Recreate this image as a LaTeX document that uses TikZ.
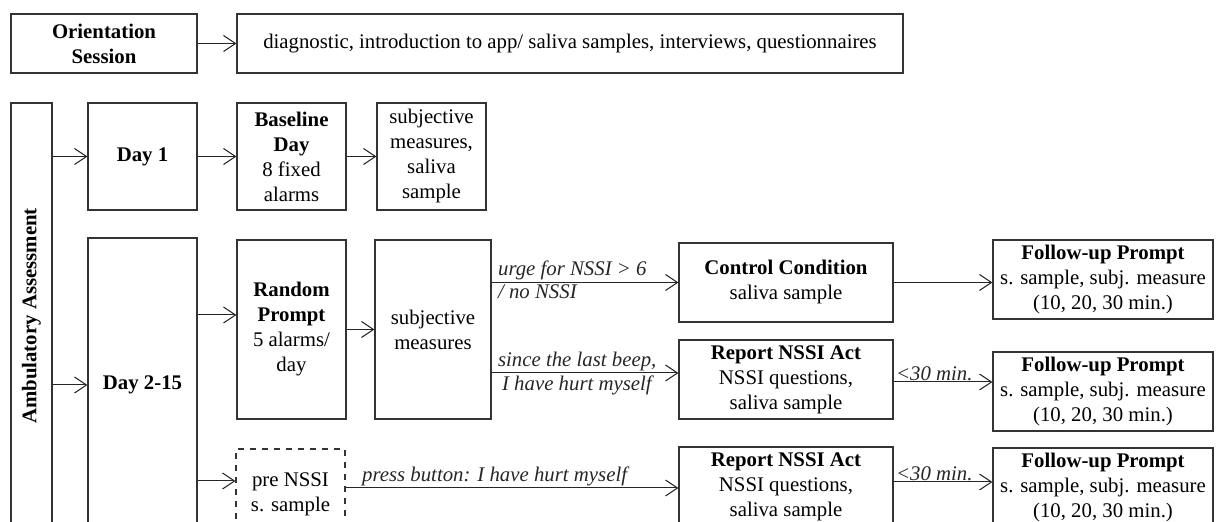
\documentclass[tikz,border=0pt]{standalone}
\usepackage{fontspec}
\setmainfont{Liberation Serif}
\usetikzlibrary{arrows.meta,positioning,calc}

\begin{document}
\begin{tikzpicture}[x=0.5pt, y=-0.5pt,
  >={Straight Barb[length=6pt,width=8pt,line width=0.5pt]},
  font=\fontsize{10.4}{12.5}\selectfont,
  box/.style={draw=black!80, line width=0.6pt, align=center, inner sep=1pt},
  flow/.style={->, line width=0.5pt, black!85},
  cond/.style={font=\fontsize{10.4}{12.5}\selectfont\itshape, inner xsep=3pt, inner ysep=1pt}]
  \useasboundingbox (0,0) rectangle (1216,522);
  \clip (0,0) rectangle (1216,522);
  % orientation row
  \node[box, minimum width=93pt, minimum height=29.5pt] (orient) at (104,43.5) {\textbf{Orientation}\\\textbf{Session}};
  \node[box, minimum width=333pt, minimum height=29.5pt] (diag) at (570,43.5) {diagnostic, introduction to app/ saliva samples, interviews, questionnaires};
  \draw[flow] (orient) -- (diag);
  % ambulatory assessment
  \node[box, rotate=90, minimum width=213pt, minimum height=20.5pt] (amb) at (31.5,316) {\textbf{Ambulatory Assessment}};
  \node[box, minimum width=54.5pt, minimum height=53.5pt] (d1) at (142.5,156.5) {\textbf{Day 1}};
  \node[box, minimum width=54.5pt, minimum height=53.5pt] (base) at (291.5,156.5) {\textbf{Baseline}\\\textbf{Day}\\8 fixed\\alarms};
  \node[box, minimum width=54.5pt, minimum height=53.5pt] (subj1) at (431.5,156.5) {subjective\\measures,\\saliva\\sample};
  \node[box, minimum width=54.5pt, minimum height=147pt] (d215) at (142.5,385) {\textbf{Day 2-15}};
  \draw[flow] (amb.south |- d1.west) -- (d1.west);
  \draw[flow] (amb.south |- d215.west) -- (d215.west);
  \draw[flow] (d1) -- (base);
  \draw[flow] (base) -- (subj1);
  % random prompt branch
  \node[box, minimum width=54.5pt, minimum height=89.5pt] (rand) at (291.5,329.5) {\textbf{Random}\\\textbf{Prompt}\\5 alarms/\\day};
  \node[box, minimum width=58pt, minimum height=89.5pt] (subj2) at (433,329.5) {subjective\\measures};
  \node[box, minimum width=107pt, minimum height=39.5pt] (ctrl) at (786,282.5) {\textbf{Control Condition}\\saliva sample};
  \node[box, minimum width=107pt, minimum height=39.5pt] (rep1) at (786,379.5) {\textbf{Report NSSI Act}\\NSSI questions,\\saliva sample};
  \node[box, minimum width=110pt, minimum height=39.5pt] (fu1) at (1103,279.5) {\textbf{Follow-up Prompt}\\s. sample, subj. measure\\(10, 20, 30 min.)};
  \node[box, minimum width=110pt, minimum height=39.5pt] (fu2) at (1103,391.5) {\textbf{Follow-up Prompt}\\s. sample, subj. measure\\(10, 20, 30 min.)};
  \coordinate (randin) at ($(rand.west)+(0,-14.5)$);
  \coordinate (rep1in) at ($(rep1.west)+(0,-6.5)$);
  \coordinate (rep1out) at ($(rep1.east)+(0,2.5)$);
  \draw[flow] (d215.east |- randin) -- (randin);
  \draw[flow] (rand) -- (subj2);
  \draw[flow] (subj2.east |- ctrl.west) -- (ctrl.west)
    node[cond, pos=0, anchor=south west] {urge for NSSI > 6}
    node[cond, pos=0, anchor=north west] {/ no NSSI};
  \draw[flow] (subj2.east |- rep1in) -- (rep1in)
    node[cond, pos=0, anchor=south west] {since the last beep,}
    node[cond, pos=0, anchor=north west, xshift=2pt] {I have hurt myself};
  \draw[flow] (ctrl.east) -- (ctrl.east -| fu1.west);
  \draw[flow] (rep1out) -- (rep1out -| fu2.west)
    node[cond, pos=0, anchor=south west, inner xsep=1pt, inner ysep=0.3pt] {<30 min.};
  % button press branch
  \node[box, dashed, minimum width=54.5pt, minimum height=45pt] (pre) at (290.5,494) {pre NSSI\\s. sample};
  \node[box, minimum width=107pt, minimum height=39.5pt] (rep2) at (786,486.5) {\textbf{Report NSSI Act}\\NSSI questions,\\saliva sample};
  \node[box, minimum width=110pt, minimum height=39.5pt] (fu3) at (1103,487.5) {\textbf{Follow-up Prompt}\\s. sample, subj. measure\\(10, 20, 30 min.)};
  \coordinate (prein) at ($(pre.west)+(0,-13)$);
  \coordinate (preout) at ($(pre.east)+(0,-6)$);
  \coordinate (rep2out) at ($(rep2.east)+(0,-4.5)$);
  \draw[flow] (d215.east |- prein) -- (prein);
  \draw[flow] (preout) -- (preout -| rep2.west)
    node[cond, pos=0, anchor=south west, xshift=5pt] {press button: I have hurt myself};
  \draw[flow] (rep2out) -- (rep2out -| fu3.west)
    node[cond, pos=0, anchor=south west, inner xsep=1pt, inner ysep=0.3pt] {<30 min.};
\end{tikzpicture}
\end{document}
